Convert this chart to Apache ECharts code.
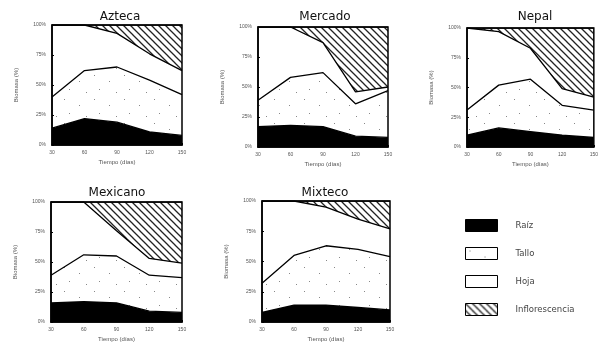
<!DOCTYPE html>
<html><head><meta charset="utf-8">
<script src="https://cdn.jsdelivr.net/npm/echarts@6/dist/echarts.min.js"></script>
<style>html,body{margin:0;padding:0;background:#fff}#c{width:601px;height:349px}</style>
</head><body><div id="c"></div>
<script>
// ---- data ----
const xTicks = ['30', '60', '90', '120', '150'];
const yTicks = ['0%', '25%', '50%', '75%', '100%'];
const components = ['Raíz', 'Tallo', 'Hoja', 'Inflorescencia'];
const varieties = ['Azteca', 'Mercado', 'Nepal', 'Mexicano', 'Mixteco'];

const aztecaRaiz = [14, 22, 19, 11, 8];
const aztecaTallo = [26, 40, 46, 43, 34];
const aztecaHoja = [60, 38, 28, 22, 20];
const aztecaInfl = [0, 0, 7, 24, 38];

const mercadoRaiz = [17, 18, 17, 9, 8];
const mercadoTallo = [22, 40, 45, 27, 39];
const mercadoHoja = [61, 42, 25, 10, 3];
const mercadoInfl = [0, 0, 13, 54, 50];

const nepalRaiz = [10, 16, 13, 10, 8];
const nepalTallo = [21, 36, 44, 25, 23];
const nepalHoja = [69, 45, 26, 14, 11];
const nepalInfl = [0, 3, 17, 51, 58];

const mexicanoRaiz = [16, 17, 16, 9, 8];
const mexicanoTallo = [23, 39, 39, 30, 29];
const mexicanoHoja = [61, 44, 21, 14, 12];
const mexicanoInfl = [0, 0, 24, 47, 51];

const mixtecoRaiz = [8, 14, 14, 12, 10];
const mixtecoTallo = [24, 41, 49, 48, 44];
const mixtecoHoja = [68, 45, 32, 25, 23];
const mixtecoInfl = [0, 0, 5, 15, 23];

const seriesData = [
  [aztecaRaiz, aztecaTallo, aztecaHoja, aztecaInfl],
  [mercadoRaiz, mercadoTallo, mercadoHoja, mercadoInfl],
  [nepalRaiz, nepalTallo, nepalHoja, nepalInfl],
  [mexicanoRaiz, mexicanoTallo, mexicanoHoja, mexicanoInfl],
  [mixtecoRaiz, mixtecoTallo, mixtecoHoja, mixtecoInfl]
];

// ---- patterns ----
function hatch() {
  const c = document.createElement('canvas'); c.width = 7; c.height = 7;
  const g = c.getContext('2d');
  g.fillStyle = '#fff'; g.fillRect(0, 0, 7, 7);
  g.strokeStyle = '#222'; g.lineWidth = 1.3;
  g.beginPath();
  g.moveTo(-1, -1); g.lineTo(8, 8);
  g.moveTo(-1, 6); g.lineTo(1, 8);
  g.moveTo(6, -1); g.lineTo(8, 1);
  g.stroke();
  return c;
}
function dots() {
  const c = document.createElement('canvas'); c.width = 30; c.height = 24;
  const g = c.getContext('2d');
  g.fillStyle = '#fff'; g.fillRect(0, 0, 30, 24);
  g.fillStyle = '#888';
  [[4, 3], [19, 9], [9, 17], [26, 20]].forEach(p => g.fillRect(p[0], p[1], 1, 1));
  return c;
}
const hatchPat = { image: hatch(), repeat: 'repeat' };
const dotPat = { image: dots(), repeat: 'repeat' };
const fills = ['#000', dotPat, '#fff', hatchPat];

// ---- layout ----
const grids = [
  { left: 52, top: 25, width: 130, height: 120, tx: 115, ty: 6 },
  { left: 258, top: 27, width: 130, height: 120, tx: 320, ty: 6 },
  { left: 467, top: 28, width: 130, height: 119, tx: 530, ty: 6 },
  { left: 51, top: 202, width: 131, height: 120, tx: 112, ty: 182 },
  { left: 262, top: 201, width: 128, height: 121, tx: 320, ty: 182 }
];

const font = 'Liberation Sans';
const option = {
  animation: false,
  backgroundColor: '#fff',
  title: varieties.map((v, i) => ({
    text: v, left: grids[i].tx, top: grids[i].ty, textAlign: 'center',
    textStyle: { fontFamily: 'DejaVu Sans', fontSize: 12, fontWeight: 'normal', color: '#111' }
  })),
  grid: grids.map(g => ({ left: g.left, top: g.top, width: g.width, height: g.height,
    show: true, borderColor: '#000', borderWidth: 1.5, backgroundColor: 'transparent', z: 10 })),
  xAxis: grids.map((g, i) => ({
    type: 'category', gridIndex: i, data: xTicks, boundaryGap: false,
    name: 'Tiempo (días)', nameLocation: 'middle', nameGap: 14,
    nameTextStyle: { fontFamily: font, fontSize: 6, color: '#555' },
    axisLine: { lineStyle: { color: '#000', width: 1.5 } },
    axisTick: { length: 2, inside: true, lineStyle: { color: '#000' } },
    axisLabel: { fontFamily: font, fontSize: 5, color: '#555', margin: 5 },
    splitLine: { show: false }, z: 11
  })),
  yAxis: grids.map((g, i) => ({
    type: 'value', gridIndex: i, min: 0, max: 100, interval: 25,
    name: 'Biomasa (%)', nameLocation: 'middle', nameGap: 33,
    nameTextStyle: { fontFamily: font, fontSize: 6, color: '#555' },
    axisLine: { show: true, lineStyle: { color: '#000', width: 1.5 } },
    axisTick: { show: true, length: 2, inside: true, lineStyle: { color: '#000' } },
    axisLabel: { fontFamily: font, fontSize: 5, color: '#555', margin: 6,
      formatter: (val) => yTicks[Math.round(val / 25)] },
    splitLine: { show: false }, z: 11
  })),
  legend: {
    orient: 'vertical', left: 460, top: 214, itemWidth: 32, itemHeight: 12, itemGap: 15,
    icon: 'rect',
    textStyle: { fontFamily: 'DejaVu Sans', fontSize: 8.5, color: '#444', padding: [0, 0, 0, 13] },
    data: components.map((c, k) => ({ name: c, icon: 'rect',
      itemStyle: { color: fills[k], borderColor: '#000', borderWidth: 1 } }))
  },
  series: []
};

seriesData.forEach((set, i) => {
  set.forEach((vals, k) => {
    option.series.push({
      name: components[k], type: 'line', xAxisIndex: i, yAxisIndex: i,
      stack: 'v' + i, data: vals, symbol: 'none', smooth: false,
      lineStyle: { color: '#000', width: 1.3 },
      itemStyle: { color: fills[k] },
      areaStyle: { color: fills[k], opacity: 1 }
    });
  });
});

const chart = echarts.init(document.getElementById('c'), null, { renderer: 'canvas' });
chart.setOption(option);
</script>
</body></html>
